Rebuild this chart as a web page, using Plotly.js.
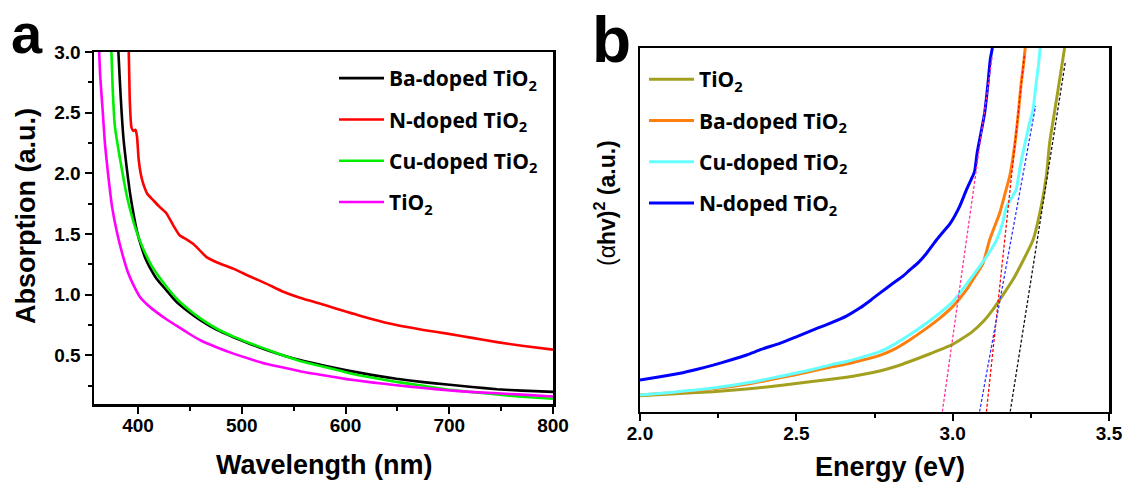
<!DOCTYPE html>
<html>
<head>
<meta charset="utf-8">
<script src="https://cdn.plot.ly/plotly-3.0.1.min.js"></script>
<style>html,body{margin:0;padding:0;background:#fff}#chart{width:1134px;height:487px}</style>
</head>
<body>
<div id="chart"></div>
<script>
// ---------- Panel a: absorption spectra ----------
const baWl  = [381, 382.5, 384, 386, 389, 392, 395.5, 399, 403, 407, 411, 418, 427, 436, 447, 460, 476, 492, 508, 524, 540, 556, 580, 601, 625, 649, 675, 698, 722, 746, 770, 800];
const baAbs = [3.0, 2.75, 2.52, 2.28, 2.05, 1.85, 1.67, 1.52, 1.40, 1.30, 1.23, 1.13, 1.04, 0.95, 0.87, 0.79, 0.71, 0.65, 0.595, 0.545, 0.50, 0.462, 0.415, 0.378, 0.34, 0.308, 0.28, 0.26, 0.24, 0.222, 0.21, 0.20];

const nWl  = [391, 391.5, 392, 393.6, 395.5, 397.5, 399, 400.5, 402.5, 404.8, 409, 414.5, 420, 427.4, 434, 440, 447, 453, 459, 466, 478, 491.6, 508, 524, 540, 556, 580, 601, 625, 649, 675, 698, 722, 746, 770, 800];
const nAbs = [3.0, 2.8, 2.6, 2.38, 2.35, 2.36, 2.3, 2.12, 2.0, 1.92, 1.83, 1.78, 1.73, 1.67, 1.57, 1.49, 1.455, 1.42, 1.37, 1.31, 1.26, 1.215, 1.15, 1.09, 1.025, 0.975, 0.915, 0.86, 0.80, 0.75, 0.71, 0.68, 0.645, 0.61, 0.58, 0.548];

const cuWl  = [374.3, 375.5, 377.5, 380, 384, 389, 393, 397, 402, 407, 413, 420, 428, 437, 447, 460, 476, 492, 508, 524, 540, 556, 580, 601, 625, 649, 675, 698, 722, 746, 770, 800];
const cuAbs = [3.0, 2.7, 2.4, 2.25, 2.05, 1.82, 1.68, 1.56, 1.44, 1.34, 1.24, 1.15, 1.06, 0.97, 0.89, 0.805, 0.72, 0.655, 0.60, 0.55, 0.50, 0.455, 0.405, 0.36, 0.318, 0.282, 0.25, 0.22, 0.198, 0.178, 0.16, 0.143];

const tiWl  = [362.5, 363.5, 366, 368, 371, 375, 380, 385, 390, 395, 402, 410, 418, 427, 437, 448, 460, 475, 492, 508, 524, 540, 556, 580, 601, 625, 649, 675, 698, 720, 746, 770, 800];
const tiAbs = [3.0, 2.8, 2.5, 2.25, 2.0, 1.72, 1.5, 1.33, 1.19, 1.09, 0.98, 0.91, 0.855, 0.80, 0.745, 0.685, 0.625, 0.57, 0.515, 0.47, 0.43, 0.40, 0.37, 0.335, 0.305, 0.278, 0.255, 0.232, 0.213, 0.20, 0.188, 0.177, 0.162];

// ---------- Panel b: Tauc plot ----------
const tiE  = [2.0, 2.1, 2.234, 2.35, 2.447, 2.55, 2.66, 2.703, 2.767, 2.82, 2.863, 2.93, 3.0, 3.06, 3.1, 3.128, 3.16, 3.192, 3.225, 3.257, 3.283, 3.3, 3.31, 3.325, 3.342, 3.358];
const tiT  = [0.44, 0.49, 0.55, 0.63, 0.72, 0.83, 0.95, 1.01, 1.12, 1.25, 1.38, 1.60, 1.85, 2.18, 2.5, 2.8, 3.2, 3.62, 4.15, 4.72, 5.64, 6.5, 7.38, 8.2, 9.12, 10.0];

const baE  = [2.0, 2.1, 2.234, 2.35, 2.447, 2.53, 2.607, 2.66, 2.703, 2.767, 2.809, 2.86, 2.916, 2.96, 3.0, 3.044, 3.07, 3.097, 3.108, 3.118, 3.13, 3.15, 3.166, 3.182, 3.193, 3.203, 3.211, 3.219, 3.226, 3.232];
const baT  = [0.46, 0.52, 0.63, 0.77, 0.93, 1.08, 1.22, 1.31, 1.40, 1.55, 1.70, 1.96, 2.29, 2.58, 2.89, 3.35, 3.7, 4.08, 4.4, 4.72, 5.0, 5.45, 5.95, 6.46, 7.0, 7.65, 8.3, 9.03, 9.5, 10.0];

const cuE  = [2.0, 2.1, 2.234, 2.35, 2.447, 2.53, 2.607, 2.66, 2.703, 2.767, 2.809, 2.86, 2.916, 2.96, 3.0, 3.054, 3.08, 3.108, 3.14, 3.16, 3.172, 3.19, 3.203, 3.215, 3.23, 3.245, 3.257, 3.267, 3.274, 3.28];
const cuT  = [0.46, 0.53, 0.65, 0.80, 0.97, 1.12, 1.28, 1.38, 1.48, 1.65, 1.83, 2.10, 2.43, 2.72, 3.02, 3.62, 3.92, 4.26, 4.72, 5.2, 5.64, 5.9, 6.1, 6.7, 7.33, 7.9, 8.3, 9.03, 9.5, 10.0];

const nE   = [2.0, 2.064, 2.128, 2.18, 2.234, 2.29, 2.341, 2.39, 2.447, 2.5, 2.554, 2.607, 2.66, 2.703, 2.74, 2.767, 2.809, 2.84, 2.863, 2.89, 2.916, 2.948, 2.97, 2.99, 3.022, 3.044, 3.06, 3.07, 3.078, 3.086, 3.102, 3.113, 3.12, 3.127];
const nT   = [0.87, 0.96, 1.056, 1.16, 1.28, 1.42, 1.56, 1.72, 1.88, 2.06, 2.25, 2.43, 2.63, 2.85, 3.08, 3.26, 3.53, 3.72, 3.9, 4.1, 4.35, 4.72, 4.95, 5.15, 5.64, 6.1, 6.4, 6.6, 7.1, 7.47, 8.2, 9.03, 9.67, 10.0];

// tangent (band-gap extrapolation) lines
const fitNE  = [2.967, 3.127], fitNT  = [0, 9.8];
const fitBaE = [3.108, 3.230], fitBaT = [0, 9.85];
const fitCuE = [3.086, 3.265], fitCuT = [0, 8.4];
const fitTiE = [3.184, 3.36],  fitTiT = [0, 9.6];

const nameBa = 'Ba-doped TiO<sub>2</sub>';
const nameN  = 'N-doped TiO<sub>2</sub>';
const nameCu = 'Cu-doped TiO<sub>2</sub>';
const nameTi = 'TiO<sub>2</sub>';

const W = 1134, H = 487;
const px = v => v / W, py = v => 1 - v / H;
const ARIAL = 'Liberation Sans, Arial, sans-serif';
const LEGF = 'Open Sans, sans-serif';

function line(x, y, name, color, width, xa, ya, leg, rank, group) {
  return {x, y, name, type: 'scatter', mode: 'lines', xaxis: xa, yaxis: ya,
    line: {color, width, shape: 'spline', smoothing: 0.5},
    legend: leg, legendrank: rank, legendgroup: group, showlegend: true};
}
function dash(x, y, color, xa, ya) {
  return {x, y, type: 'scatter', mode: 'lines', xaxis: xa, yaxis: ya, showlegend: false,
    line: {color, width: 1.3, dash: '3px,2px'}, hoverinfo: 'skip'};
}

const data = [
  line(baWl, baAbs, nameBa, '#000000', 2.6, 'x', 'y', 'legend', 1, 'a1'),
  line(cuWl, cuAbs, nameCu, '#00EE00', 2.6, 'x', 'y', 'legend', 3, 'a3'),
  line(tiWl, tiAbs, nameTi, '#FF00FF', 2.6, 'x', 'y', 'legend', 4, 'a4'),
  line(nWl, nAbs, nameN, '#FF0000', 2.6, 'x', 'y', 'legend', 2, 'a2'),
  line(tiE, tiT, nameTi, '#A3A020', 3, 'x2', 'y2', 'legend2', 1, 'b1'),
  line(baE, baT, nameBa, '#FF7F0E', 3, 'x2', 'y2', 'legend2', 2, 'b2'),
  line(cuE, cuT, nameCu, '#66FFFF', 3, 'x2', 'y2', 'legend2', 3, 'b3'),
  line(nE, nT, nameN, '#0000FF', 3, 'x2', 'y2', 'legend2', 4, 'b4'),
  dash(fitNE, fitNT, '#FF3399', 'x2', 'y2'),
  dash(fitBaE, fitBaT, '#FF0000', 'x2', 'y2'),
  dash(fitCuE, fitCuT, '#3333FF', 'x2', 'y2'),
  dash(fitTiE, fitTiT, '#111111', 'x2', 'y2')
];

const tickFont = {family: ARIAL, size: 19, weight: 'bold', color: '#000'};
const axisBase = {showgrid: false, zeroline: false, showline: true, linecolor: '#000', linewidth: 2.5,
  mirror: true, ticks: 'outside', ticklen: 7, tickwidth: 2, tickcolor: '#000', tickfont: tickFont,
  automargin: false, fixedrange: true};

const legendBase = {xanchor: 'left', yanchor: 'top', bgcolor: 'rgba(0,0,0,0)', borderwidth: 0,
  font: {family: LEGF, size: 21, weight: 'bold', color: '#000'}, traceorder: 'grouped', tracegroupgap: 11, itemwidth: 45};

const layout = {
  width: W, height: H,
  margin: {l: 0, r: 0, t: 0, b: 0},
  paper_bgcolor: '#fff', plot_bgcolor: '#fff',
  showlegend: true,
  xaxis: Object.assign({}, axisBase, {domain: [px(94), px(553)], range: [357.5, 800], dtick: 100, tick0: 400,
    ticklabelstandoff: -4,
    minor: {dtick: 50, ticks: 'outside', ticklen: 4, tickwidth: 2, tickcolor: '#000'}, anchor: 'y'}),
  yaxis: Object.assign({}, axisBase, {domain: [py(404), py(52)], range: [0.1, 3.0], dtick: 0.5, tick0: 0.5,
    tickformat: '.1f', minor: {dtick: 0.25, ticks: 'outside', ticklen: 4, tickwidth: 2, tickcolor: '#000'}, anchor: 'x'}),
  xaxis2: Object.assign({}, axisBase, {domain: [px(640), px(1109)], range: [2.0, 3.5], dtick: 0.5, tick0: 2.0,
    tickformat: '.1f', ticklabelstandoff: -4,
    minor: {dtick: 0.25, ticks: 'outside', ticklen: 4, tickwidth: 2, tickcolor: '#000'}, anchor: 'y2'}),
  yaxis2: Object.assign({}, axisBase, {domain: [py(411.7), py(48)], range: [0, 10], ticks: '', showticklabels: false, anchor: 'x2'}),
  legend: Object.assign({}, legendBase, {x: px(334), y: py(58)}),
  legend2: Object.assign({}, legendBase, {x: px(644), y: py(59)}),
  annotations: [
    {text: 'a', x: px(27), y: py(33), xref: 'paper', yref: 'paper', showarrow: false, xanchor: 'center', yanchor: 'middle',
      font: {family: ARIAL, size: 56, weight: 'bold', color: '#000'}},
    {text: 'b', x: px(611), y: py(40), xref: 'paper', yref: 'paper', showarrow: false, xanchor: 'center', yanchor: 'middle',
      font: {family: ARIAL, size: 64, weight: 'bold', color: '#000'}},
    {text: 'Absorption (a.u.)', x: px(26), y: py(216), xref: 'paper', yref: 'paper', showarrow: false, textangle: -90,
      xanchor: 'center', yanchor: 'middle', font: {family: ARIAL, size: 27, weight: 'bold', color: '#000'}},
    {text: 'Wavelength (nm)', x: px(324), y: py(465), xref: 'paper', yref: 'paper', showarrow: false,
      xanchor: 'center', yanchor: 'middle', font: {family: ARIAL, size: 27, weight: 'bold', color: '#000'}},
    {text: 'Energy (eV)', x: px(890), y: py(467), xref: 'paper', yref: 'paper', showarrow: false,
      xanchor: 'center', yanchor: 'middle', font: {family: ARIAL, size: 27, weight: 'bold', color: '#000'}},
    {text: '<span style="font-weight:normal">(α</span>hv)<sup>2</sup> (a.u.)', x: px(605), y: py(203), xref: 'paper', yref: 'paper',
      showarrow: false, textangle: -90, xanchor: 'center', yanchor: 'middle',
      font: {family: ARIAL, size: 23, weight: 'bold', color: '#000'}}
  ]
};

Plotly.newPlot('chart', data, layout, {displayModeBar: false, staticPlot: true});
</script>
</body>
</html>
